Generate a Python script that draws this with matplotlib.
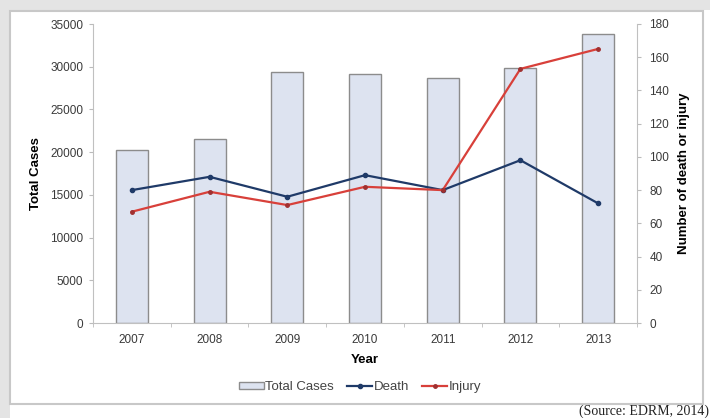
import matplotlib
matplotlib.use("Agg")
import matplotlib.pyplot as plt
from matplotlib.patches import Rectangle
import numpy as np

plt.rcParams['font.family'] = ['Liberation Sans', 'DejaVu Sans']

years = ['2007', '2008', '2009', '2010', '2011', '2012', '2013']
total_cases = [20200, 21500, 29400, 29100, 28700, 29900, 33800]
death = [80, 88, 76, 89, 80, 98, 72]
injury = [67, 79, 71, 82, 80, 153, 165]

W, H = 710, 418
fig = plt.figure(figsize=(W / 100, H / 100), dpi=100, facecolor='white')

# grey page behind the framed chart
fig.patches.append(Rectangle((0, 1 - 10 / H), 1, 10 / H, transform=fig.transFigure,
                             facecolor='#e4e4e4', edgecolor='none', zorder=-10))
fig.patches.append(Rectangle((0, 0), 10 / W, 1, transform=fig.transFigure,
                             facecolor='#e4e4e4', edgecolor='none', zorder=-10))
fig.patches.append(Rectangle((10 / W, 1 - 404 / H), 693 / W, 393 / H, transform=fig.transFigure,
                             facecolor='white', edgecolor='#c8c8c8', linewidth=1.5, zorder=-9))

ax = fig.add_axes([93 / W, 1 - 323 / H, 544 / W, 299 / H])
ax.set_facecolor('none')
x = np.arange(len(years))

ax.bar(x, total_cases, width=0.41, color='#dde3f0', edgecolor='#8c8c8c', linewidth=1.0,
       label='Total Cases', zorder=1)
ax.set_xlim(-0.5, len(years) - 0.5)
ax.set_ylim(0, 35000)
ax.set_yticks(range(0, 35001, 5000))
ax.set_xticks(x)
ax.set_xticklabels(years)
ax.set_xticks(np.arange(-0.5, len(years)), minor=True)
ax.tick_params(axis='x', which='major', length=0, pad=8, labelsize=8.5, labelcolor='#3a3a3a')
ax.tick_params(axis='x', which='minor', length=3, color='#bbbbbb', direction='out')
ax.tick_params(axis='y', length=3, color='#bbbbbb', labelsize=8.5, labelcolor='#3a3a3a', pad=4)
for s in ['top', 'right']:
    ax.spines[s].set_visible(False)
for s in ['left', 'bottom']:
    ax.spines[s].set_color('#c0c0c0')
ax.set_ylabel('Total Cases', fontsize=9.5, fontweight='bold', labelpad=6)
ax.set_xlabel('Year', fontsize=9.5, fontweight='bold', labelpad=6)

ax2 = ax.twinx()
ax2.plot(x, death, color='#1f3a68', linewidth=1.6, marker='o', markersize=3, label='Death')
ax2.plot(x, injury, color='#d8403a', linewidth=1.6, marker='o', markersize=2.5,
         markerfacecolor='#a03030', markeredgecolor='#a03030', label='Injury')
ax2.set_ylim(0, 180)
ax2.set_yticks(range(0, 181, 20))
ax2.tick_params(axis='y', length=3, color='#bbbbbb', labelsize=8.5, labelcolor='#3a3a3a', pad=6)
for s in ['top', 'left', 'bottom']:
    ax2.spines[s].set_visible(False)
ax2.spines['right'].set_color('#c0c0c0')
ax2.set_ylabel('Number of death or injury', fontsize=9.5, fontweight='bold', labelpad=6)

h1, l1 = ax.get_legend_handles_labels()
h2, l2 = ax2.get_legend_handles_labels()
fig.legend(h1 + h2, l1 + l2, loc='center', bbox_to_anchor=(360 / W, 1 - 387 / H), ncol=3,
           frameon=False, fontsize=9.5, handlelength=1.9, handleheight=0.5, handletextpad=0.1,
           columnspacing=1.0, labelcolor='#444444')

fig.text(709 / W, 0, '(Source: EDRM, 2014)', family='Liberation Serif',
         fontsize=10, va='bottom', ha='right', color='#222222')

fig.savefig('out.png', dpi=100, facecolor=fig.get_facecolor())
